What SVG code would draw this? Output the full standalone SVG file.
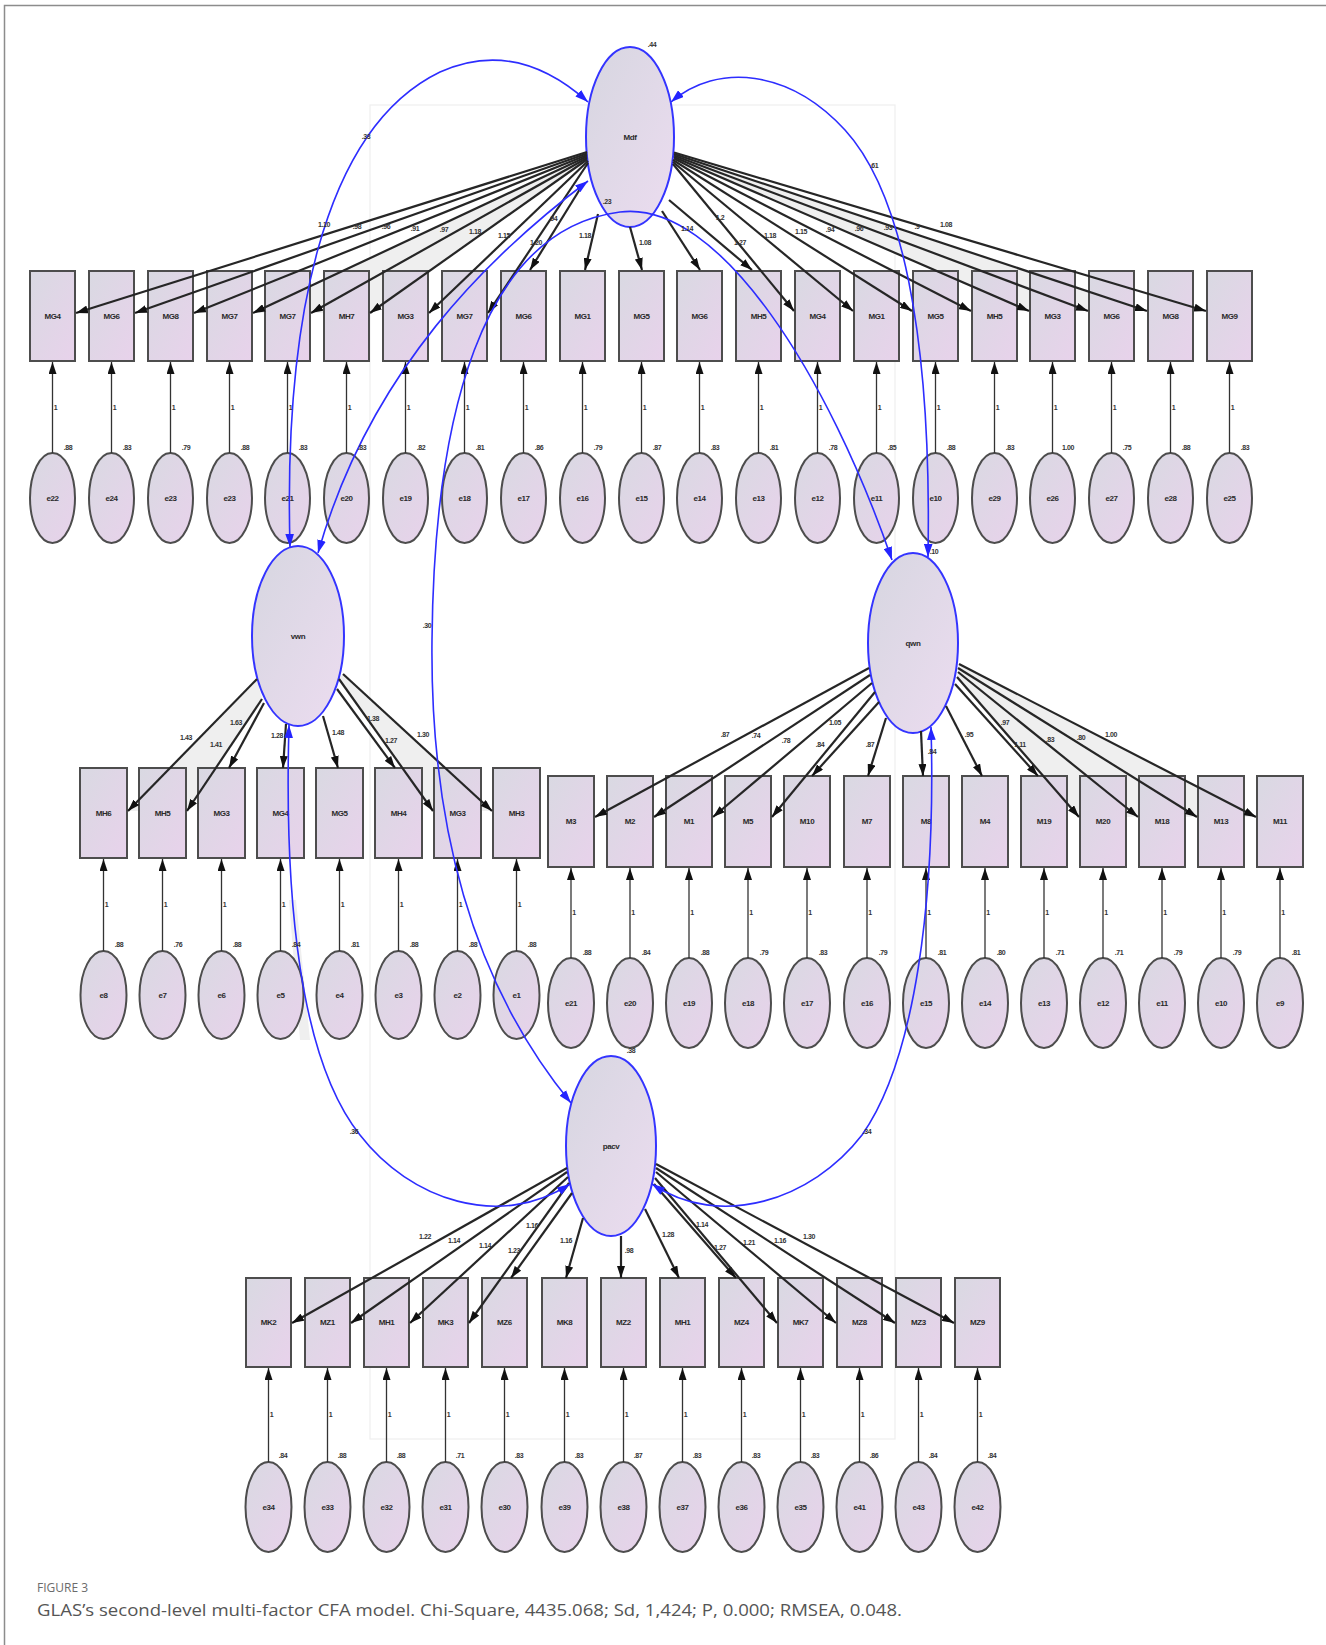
<svg xmlns="http://www.w3.org/2000/svg" width="1326" height="1645" viewBox="0 0 1326 1645">
<defs>
<linearGradient id="gn" x1="0" y1="0" x2="1" y2="1"><stop offset="0" stop-color="#d9d9e2"/><stop offset="1" stop-color="#e8d2eb"/></linearGradient>
<linearGradient id="gl" x1="0" y1="0" x2="1" y2="1"><stop offset="0" stop-color="#d6d6e0"/><stop offset="1" stop-color="#ecdcf0"/></linearGradient>
<marker id="ah" viewBox="0 0 12 8" refX="12" refY="4" markerWidth="12" markerHeight="8" orient="auto" markerUnits="userSpaceOnUse"><path d="M0,0L12,4L0,8z" fill="#111"/></marker>
<marker id="bh" viewBox="0 0 12 8" refX="12" refY="4" markerWidth="13" markerHeight="9" orient="auto-start-reverse" markerUnits="userSpaceOnUse"><path d="M0,0L12,4L0,8z" fill="#2424ff"/></marker>
<style>
.box{fill:url(#gn);stroke:#4d4d4d;stroke-width:2}
.err{fill:url(#gn);stroke:#4d4d4d;stroke-width:2}
.lat{fill:url(#gl);stroke:#3434ff;stroke-width:2}
.nl{font-family:"Liberation Sans",Arial,sans-serif;font-size:8px;font-weight:bold;fill:#2a2a2a;text-anchor:middle;letter-spacing:-0.4px}
.sl{font-family:"Liberation Sans",Arial,sans-serif;font-size:7px;font-weight:bold;fill:#333;text-anchor:middle;letter-spacing:-0.4px}
.reg{stroke:#262626;stroke-width:2.2;fill:none;marker-end:url(#ah)}
.eln{stroke:#333;stroke-width:1.3;fill:none;marker-end:url(#ah)}
.cov{stroke:#2d2dff;stroke-width:1.6;fill:none;marker-start:url(#bh);marker-end:url(#bh)}
.frame{stroke:#8c8c8c;stroke-width:1.5;fill:none}
.faint{stroke:#efefef;stroke-width:1.2;fill:none}
.shade{fill:#efefef;stroke:none}
</style>
</defs>
<rect width="1326" height="1645" fill="#ffffff"/>
<path class="frame" d="M4.5,1645V5.5H1326"/>
<rect class="faint" x="370" y="105" width="525" height="1334"/>

<g id="shading">
<polygon class="shade" points="257,679 128,811 187,811 262,699"/>
<polygon class="shade" points="339,679 433,811 492,811 343,674"/>
<polygon class="shade" points="957,677 1079,817 1256,817 959,664"/>
<polygon class="shade" points="587,156 253,313 370,313 587,160"/>
<polygon class="shade" points="674,157 1029,311 1147,311 674,154"/>
<polygon class="shade" points="289,900 300,1040 310,1040 296,900"/>
</g>

<g id="nodes">
<g id="Mdf"><ellipse class="lat" cx="630" cy="137" rx="44" ry="90"/><text class="nl" x="630" y="140">Mdf</text></g>
<g id="vwn"><ellipse class="lat" cx="298" cy="636" rx="46" ry="90"/><text class="nl" x="298" y="639">vwn</text></g>
<g id="qwn"><ellipse class="lat" cx="913" cy="643" rx="45" ry="90"/><text class="nl" x="913" y="646">qwn</text></g>
<g id="pacv"><ellipse class="lat" cx="611" cy="1146" rx="45" ry="90"/><text class="nl" x="611" y="1149">pacv</text></g>

<g id="top-row">
<g id="t0"><rect class="box" x="30" y="271" width="45" height="90"/><text class="nl" x="52.5" y="319">MG4</text></g>
<g id="t1"><rect class="box" x="89" y="271" width="45" height="90"/><text class="nl" x="111.5" y="319">MG6</text></g>
<g id="t2"><rect class="box" x="148" y="271" width="45" height="90"/><text class="nl" x="170.5" y="319">MG8</text></g>
<g id="t3"><rect class="box" x="207" y="271" width="45" height="90"/><text class="nl" x="229.5" y="319">MG7</text></g>
<g id="t4"><rect class="box" x="265" y="271" width="45" height="90"/><text class="nl" x="287.5" y="319">MG7</text></g>
<g id="t5"><rect class="box" x="324" y="271" width="45" height="90"/><text class="nl" x="346.5" y="319">MH7</text></g>
<g id="t6"><rect class="box" x="383" y="271" width="45" height="90"/><text class="nl" x="405.5" y="319">MG3</text></g>
<g id="t7"><rect class="box" x="442" y="271" width="45" height="90"/><text class="nl" x="464.5" y="319">MG7</text></g>
<g id="t8"><rect class="box" x="501" y="271" width="45" height="90"/><text class="nl" x="523.5" y="319">MG6</text></g>
<g id="t9"><rect class="box" x="560" y="271" width="45" height="90"/><text class="nl" x="582.5" y="319">MG1</text></g>
<g id="t10"><rect class="box" x="619" y="271" width="45" height="90"/><text class="nl" x="641.5" y="319">MG5</text></g>
<g id="t11"><rect class="box" x="677" y="271" width="45" height="90"/><text class="nl" x="699.5" y="319">MG6</text></g>
<g id="t12"><rect class="box" x="736" y="271" width="45" height="90"/><text class="nl" x="758.5" y="319">MH5</text></g>
<g id="t13"><rect class="box" x="795" y="271" width="45" height="90"/><text class="nl" x="817.5" y="319">MG4</text></g>
<g id="t14"><rect class="box" x="854" y="271" width="45" height="90"/><text class="nl" x="876.5" y="319">MG1</text></g>
<g id="t15"><rect class="box" x="913" y="271" width="45" height="90"/><text class="nl" x="935.5" y="319">MG5</text></g>
<g id="t16"><rect class="box" x="972" y="271" width="45" height="90"/><text class="nl" x="994.5" y="319">MH5</text></g>
<g id="t17"><rect class="box" x="1030" y="271" width="45" height="90"/><text class="nl" x="1052.5" y="319">MG3</text></g>
<g id="t18"><rect class="box" x="1089" y="271" width="45" height="90"/><text class="nl" x="1111.5" y="319">MG6</text></g>
<g id="t19"><rect class="box" x="1148" y="271" width="45" height="90"/><text class="nl" x="1170.5" y="319">MG8</text></g>
<g id="t20"><rect class="box" x="1207" y="271" width="45" height="90"/><text class="nl" x="1229.5" y="319">MG9</text></g>
</g>
<g id="top-errors">
<g id="te0"><ellipse class="err" cx="52.5" cy="498" rx="22.5" ry="45"/><text class="nl" x="52.5" y="501">e22</text></g>
<g id="te1"><ellipse class="err" cx="111.5" cy="498" rx="22.5" ry="45"/><text class="nl" x="111.5" y="501">e24</text></g>
<g id="te2"><ellipse class="err" cx="170.5" cy="498" rx="22.5" ry="45"/><text class="nl" x="170.5" y="501">e23</text></g>
<g id="te3"><ellipse class="err" cx="229.5" cy="498" rx="22.5" ry="45"/><text class="nl" x="229.5" y="501">e23</text></g>
<g id="te4"><ellipse class="err" cx="287.5" cy="498" rx="22.5" ry="45"/><text class="nl" x="287.5" y="501">e21</text></g>
<g id="te5"><ellipse class="err" cx="346.5" cy="498" rx="22.5" ry="45"/><text class="nl" x="346.5" y="501">e20</text></g>
<g id="te6"><ellipse class="err" cx="405.5" cy="498" rx="22.5" ry="45"/><text class="nl" x="405.5" y="501">e19</text></g>
<g id="te7"><ellipse class="err" cx="464.5" cy="498" rx="22.5" ry="45"/><text class="nl" x="464.5" y="501">e18</text></g>
<g id="te8"><ellipse class="err" cx="523.5" cy="498" rx="22.5" ry="45"/><text class="nl" x="523.5" y="501">e17</text></g>
<g id="te9"><ellipse class="err" cx="582.5" cy="498" rx="22.5" ry="45"/><text class="nl" x="582.5" y="501">e16</text></g>
<g id="te10"><ellipse class="err" cx="641.5" cy="498" rx="22.5" ry="45"/><text class="nl" x="641.5" y="501">e15</text></g>
<g id="te11"><ellipse class="err" cx="699.5" cy="498" rx="22.5" ry="45"/><text class="nl" x="699.5" y="501">e14</text></g>
<g id="te12"><ellipse class="err" cx="758.5" cy="498" rx="22.5" ry="45"/><text class="nl" x="758.5" y="501">e13</text></g>
<g id="te13"><ellipse class="err" cx="817.5" cy="498" rx="22.5" ry="45"/><text class="nl" x="817.5" y="501">e12</text></g>
<g id="te14"><ellipse class="err" cx="876.5" cy="498" rx="22.5" ry="45"/><text class="nl" x="876.5" y="501">e11</text></g>
<g id="te15"><ellipse class="err" cx="935.5" cy="498" rx="22.5" ry="45"/><text class="nl" x="935.5" y="501">e10</text></g>
<g id="te16"><ellipse class="err" cx="994.5" cy="498" rx="22.5" ry="45"/><text class="nl" x="994.5" y="501">e29</text></g>
<g id="te17"><ellipse class="err" cx="1052.5" cy="498" rx="22.5" ry="45"/><text class="nl" x="1052.5" y="501">e26</text></g>
<g id="te18"><ellipse class="err" cx="1111.5" cy="498" rx="22.5" ry="45"/><text class="nl" x="1111.5" y="501">e27</text></g>
<g id="te19"><ellipse class="err" cx="1170.5" cy="498" rx="22.5" ry="45"/><text class="nl" x="1170.5" y="501">e28</text></g>
<g id="te20"><ellipse class="err" cx="1229.5" cy="498" rx="22.5" ry="45"/><text class="nl" x="1229.5" y="501">e25</text></g>
</g>

<g id="left-row">
<g id="l0"><rect class="box" x="80" y="768" width="47" height="90"/><text class="nl" x="103.5" y="816">MH6</text></g>
<g id="l1"><rect class="box" x="139" y="768" width="47" height="90"/><text class="nl" x="162.5" y="816">MH5</text></g>
<g id="l2"><rect class="box" x="198" y="768" width="47" height="90"/><text class="nl" x="221.5" y="816">MG3</text></g>
<g id="l3"><rect class="box" x="257" y="768" width="47" height="90"/><text class="nl" x="280.5" y="816">MG4</text></g>
<g id="l4"><rect class="box" x="316" y="768" width="47" height="90"/><text class="nl" x="339.5" y="816">MG5</text></g>
<g id="l5"><rect class="box" x="375" y="768" width="47" height="90"/><text class="nl" x="398.5" y="816">MH4</text></g>
<g id="l6"><rect class="box" x="434" y="768" width="47" height="90"/><text class="nl" x="457.5" y="816">MG3</text></g>
<g id="l7"><rect class="box" x="493" y="768" width="47" height="90"/><text class="nl" x="516.5" y="816">MH3</text></g>
</g>
<g id="left-errors">
<g id="le0"><ellipse class="err" cx="103.5" cy="995" rx="23" ry="44"/><text class="nl" x="103.5" y="998">e8</text></g>
<g id="le1"><ellipse class="err" cx="162.5" cy="995" rx="23" ry="44"/><text class="nl" x="162.5" y="998">e7</text></g>
<g id="le2"><ellipse class="err" cx="221.5" cy="995" rx="23" ry="44"/><text class="nl" x="221.5" y="998">e6</text></g>
<g id="le3"><ellipse class="err" cx="280.5" cy="995" rx="23" ry="44"/><text class="nl" x="280.5" y="998">e5</text></g>
<g id="le4"><ellipse class="err" cx="339.5" cy="995" rx="23" ry="44"/><text class="nl" x="339.5" y="998">e4</text></g>
<g id="le5"><ellipse class="err" cx="398.5" cy="995" rx="23" ry="44"/><text class="nl" x="398.5" y="998">e3</text></g>
<g id="le6"><ellipse class="err" cx="457.5" cy="995" rx="23" ry="44"/><text class="nl" x="457.5" y="998">e2</text></g>
<g id="le7"><ellipse class="err" cx="516.5" cy="995" rx="23" ry="44"/><text class="nl" x="516.5" y="998">e1</text></g>
</g>

<g id="right-row">
<g id="r0"><rect class="box" x="548" y="776" width="46" height="91"/><text class="nl" x="571" y="824">M3</text></g>
<g id="r1"><rect class="box" x="607" y="776" width="46" height="91"/><text class="nl" x="630" y="824">M2</text></g>
<g id="r2"><rect class="box" x="666" y="776" width="46" height="91"/><text class="nl" x="689" y="824">M1</text></g>
<g id="r3"><rect class="box" x="725" y="776" width="46" height="91"/><text class="nl" x="748" y="824">M5</text></g>
<g id="r4"><rect class="box" x="784" y="776" width="46" height="91"/><text class="nl" x="807" y="824">M10</text></g>
<g id="r5"><rect class="box" x="844" y="776" width="46" height="91"/><text class="nl" x="867" y="824">M7</text></g>
<g id="r6"><rect class="box" x="903" y="776" width="46" height="91"/><text class="nl" x="926" y="824">M8</text></g>
<g id="r7"><rect class="box" x="962" y="776" width="46" height="91"/><text class="nl" x="985" y="824">M4</text></g>
<g id="r8"><rect class="box" x="1021" y="776" width="46" height="91"/><text class="nl" x="1044" y="824">M19</text></g>
<g id="r9"><rect class="box" x="1080" y="776" width="46" height="91"/><text class="nl" x="1103" y="824">M20</text></g>
<g id="r10"><rect class="box" x="1139" y="776" width="46" height="91"/><text class="nl" x="1162" y="824">M18</text></g>
<g id="r11"><rect class="box" x="1198" y="776" width="46" height="91"/><text class="nl" x="1221" y="824">M13</text></g>
<g id="r12"><rect class="box" x="1257" y="776" width="46" height="91"/><text class="nl" x="1280" y="824">M11</text></g>
</g>
<g id="right-errors">
<g id="re0"><ellipse class="err" cx="571" cy="1003" rx="23" ry="45"/><text class="nl" x="571" y="1006">e21</text></g>
<g id="re1"><ellipse class="err" cx="630" cy="1003" rx="23" ry="45"/><text class="nl" x="630" y="1006">e20</text></g>
<g id="re2"><ellipse class="err" cx="689" cy="1003" rx="23" ry="45"/><text class="nl" x="689" y="1006">e19</text></g>
<g id="re3"><ellipse class="err" cx="748" cy="1003" rx="23" ry="45"/><text class="nl" x="748" y="1006">e18</text></g>
<g id="re4"><ellipse class="err" cx="807" cy="1003" rx="23" ry="45"/><text class="nl" x="807" y="1006">e17</text></g>
<g id="re5"><ellipse class="err" cx="867" cy="1003" rx="23" ry="45"/><text class="nl" x="867" y="1006">e16</text></g>
<g id="re6"><ellipse class="err" cx="926" cy="1003" rx="23" ry="45"/><text class="nl" x="926" y="1006">e15</text></g>
<g id="re7"><ellipse class="err" cx="985" cy="1003" rx="23" ry="45"/><text class="nl" x="985" y="1006">e14</text></g>
<g id="re8"><ellipse class="err" cx="1044" cy="1003" rx="23" ry="45"/><text class="nl" x="1044" y="1006">e13</text></g>
<g id="re9"><ellipse class="err" cx="1103" cy="1003" rx="23" ry="45"/><text class="nl" x="1103" y="1006">e12</text></g>
<g id="re10"><ellipse class="err" cx="1162" cy="1003" rx="23" ry="45"/><text class="nl" x="1162" y="1006">e11</text></g>
<g id="re11"><ellipse class="err" cx="1221" cy="1003" rx="23" ry="45"/><text class="nl" x="1221" y="1006">e10</text></g>
<g id="re12"><ellipse class="err" cx="1280" cy="1003" rx="23" ry="45"/><text class="nl" x="1280" y="1006">e9</text></g>
</g>

<g id="bottom-row">
<g id="b0"><rect class="box" x="246" y="1278" width="45" height="89"/><text class="nl" x="268.5" y="1325">MK2</text></g>
<g id="b1"><rect class="box" x="305" y="1278" width="45" height="89"/><text class="nl" x="327.5" y="1325">MZ1</text></g>
<g id="b2"><rect class="box" x="364" y="1278" width="45" height="89"/><text class="nl" x="386.5" y="1325">MH1</text></g>
<g id="b3"><rect class="box" x="423" y="1278" width="45" height="89"/><text class="nl" x="445.5" y="1325">MK3</text></g>
<g id="b4"><rect class="box" x="482" y="1278" width="45" height="89"/><text class="nl" x="504.5" y="1325">MZ6</text></g>
<g id="b5"><rect class="box" x="542" y="1278" width="45" height="89"/><text class="nl" x="564.5" y="1325">MK8</text></g>
<g id="b6"><rect class="box" x="601" y="1278" width="45" height="89"/><text class="nl" x="623.5" y="1325">MZ2</text></g>
<g id="b7"><rect class="box" x="660" y="1278" width="45" height="89"/><text class="nl" x="682.5" y="1325">MH1</text></g>
<g id="b8"><rect class="box" x="719" y="1278" width="45" height="89"/><text class="nl" x="741.5" y="1325">MZ4</text></g>
<g id="b9"><rect class="box" x="778" y="1278" width="45" height="89"/><text class="nl" x="800.5" y="1325">MK7</text></g>
<g id="b10"><rect class="box" x="837" y="1278" width="45" height="89"/><text class="nl" x="859.5" y="1325">MZ8</text></g>
<g id="b11"><rect class="box" x="896" y="1278" width="45" height="89"/><text class="nl" x="918.5" y="1325">MZ3</text></g>
<g id="b12"><rect class="box" x="955" y="1278" width="45" height="89"/><text class="nl" x="977.5" y="1325">MZ9</text></g>
</g>
<g id="bottom-errors">
<g id="be0"><ellipse class="err" cx="268.5" cy="1507" rx="23" ry="45"/><text class="nl" x="268.5" y="1510">e34</text></g>
<g id="be1"><ellipse class="err" cx="327.5" cy="1507" rx="23" ry="45"/><text class="nl" x="327.5" y="1510">e33</text></g>
<g id="be2"><ellipse class="err" cx="386.5" cy="1507" rx="23" ry="45"/><text class="nl" x="386.5" y="1510">e32</text></g>
<g id="be3"><ellipse class="err" cx="445.5" cy="1507" rx="23" ry="45"/><text class="nl" x="445.5" y="1510">e31</text></g>
<g id="be4"><ellipse class="err" cx="504.5" cy="1507" rx="23" ry="45"/><text class="nl" x="504.5" y="1510">e30</text></g>
<g id="be5"><ellipse class="err" cx="564.5" cy="1507" rx="23" ry="45"/><text class="nl" x="564.5" y="1510">e39</text></g>
<g id="be6"><ellipse class="err" cx="623.5" cy="1507" rx="23" ry="45"/><text class="nl" x="623.5" y="1510">e38</text></g>
<g id="be7"><ellipse class="err" cx="682.5" cy="1507" rx="23" ry="45"/><text class="nl" x="682.5" y="1510">e37</text></g>
<g id="be8"><ellipse class="err" cx="741.5" cy="1507" rx="23" ry="45"/><text class="nl" x="741.5" y="1510">e36</text></g>
<g id="be9"><ellipse class="err" cx="800.5" cy="1507" rx="23" ry="45"/><text class="nl" x="800.5" y="1510">e35</text></g>
<g id="be10"><ellipse class="err" cx="859.5" cy="1507" rx="23" ry="45"/><text class="nl" x="859.5" y="1510">e41</text></g>
<g id="be11"><ellipse class="err" cx="918.5" cy="1507" rx="23" ry="45"/><text class="nl" x="918.5" y="1510">e43</text></g>
<g id="be12"><ellipse class="err" cx="977.5" cy="1507" rx="23" ry="45"/><text class="nl" x="977.5" y="1510">e42</text></g>
</g>
</g>

<g id="connectors">
<g id="top-paths">
<path class="reg" d="M587,152L76,313"/>
<path class="reg" d="M587,153.5L135,313"/>
<path class="reg" d="M587,155L194,313"/>
<path class="reg" d="M587,156.5L253,313"/>
<path class="reg" d="M587,158L311,313"/>
<path class="reg" d="M587,159.5L370,313"/>
<path class="reg" d="M588,161L429,313"/>
<path class="reg" d="M588,163L488,313"/>
<path class="reg" d="M580,189L530,270"/>
<path class="reg" d="M598,214L585,270"/>
<path class="reg" d="M630,227L642,270"/>
<path class="reg" d="M662,211L700,270"/>
<path class="reg" d="M669,200L752,270"/>
<path class="reg" d="M673,164L794,311"/>
<path class="reg" d="M673,162L853,311"/>
<path class="reg" d="M673,160L912,311"/>
<path class="reg" d="M674,158.5L971,311"/>
<path class="reg" d="M674,157L1029,311"/>
<path class="reg" d="M674,155.5L1088,311"/>
<path class="reg" d="M674,154L1147,311"/>
<path class="reg" d="M674,152.5L1206,311"/>
</g>
<g id="top-error-paths">
<path class="eln" d="M52.5,453V362"/><path class="eln" d="M111.5,453V362"/><path class="eln" d="M170.5,453V362"/><path class="eln" d="M229.5,453V362"/><path class="eln" d="M287.5,453V362"/><path class="eln" d="M346.5,453V362"/><path class="eln" d="M405.5,453V362"/><path class="eln" d="M464.5,453V362"/><path class="eln" d="M523.5,453V362"/><path class="eln" d="M582.5,453V362"/><path class="eln" d="M641.5,453V362"/><path class="eln" d="M699.5,453V362"/><path class="eln" d="M758.5,453V362"/><path class="eln" d="M817.5,453V362"/><path class="eln" d="M876.5,453V362"/><path class="eln" d="M935.5,453V362"/><path class="eln" d="M994.5,453V362"/><path class="eln" d="M1052.5,453V362"/><path class="eln" d="M1111.5,453V362"/><path class="eln" d="M1170.5,453V362"/><path class="eln" d="M1229.5,453V362"/>
</g>
<g id="left-paths">
<path class="reg" d="M257,679L128,811"/>
<path class="reg" d="M262,699L187,811"/>
<path class="reg" d="M264,703L229,768"/>
<path class="reg" d="M286,724L283,768"/>
<path class="reg" d="M323,716L338,768"/>
<path class="reg" d="M337,689L395,768"/>
<path class="reg" d="M339,679L433,811"/>
<path class="reg" d="M343,674L492,811"/>
<path class="eln" d="M103.5,951V859"/><path class="eln" d="M162.5,951V859"/><path class="eln" d="M221.5,951V859"/><path class="eln" d="M280.5,951V859"/><path class="eln" d="M339.5,951V859"/><path class="eln" d="M398.5,951V859"/><path class="eln" d="M457.5,951V859"/><path class="eln" d="M516.5,951V859"/>
</g>
<g id="right-paths">
<path class="reg" d="M869,668L595,817"/>
<path class="reg" d="M870,675L654,817"/>
<path class="reg" d="M872,683L713,817"/>
<path class="reg" d="M875,692L772,817"/>
<path class="reg" d="M879,702L812,776"/>
<path class="reg" d="M886,718L868,776"/>
<path class="reg" d="M921,731L923,776"/>
<path class="reg" d="M946,706L982,776"/>
<path class="reg" d="M955,684L1038,776"/>
<path class="reg" d="M957,677L1079,817"/>
<path class="reg" d="M958,672L1138,817"/>
<path class="reg" d="M958,668L1197,817"/>
<path class="reg" d="M959,664L1256,817"/>
<path class="eln" d="M571,958V868"/><path class="eln" d="M630,958V868"/><path class="eln" d="M689,958V868"/><path class="eln" d="M748,958V868"/><path class="eln" d="M807,958V868"/><path class="eln" d="M867,958V868"/><path class="eln" d="M926,958V868"/><path class="eln" d="M985,958V868"/><path class="eln" d="M1044,958V868"/><path class="eln" d="M1103,958V868"/><path class="eln" d="M1162,958V868"/><path class="eln" d="M1221,958V868"/><path class="eln" d="M1280,958V868"/>
</g>
<g id="bottom-paths">
<path class="reg" d="M567,1168L292,1323"/>
<path class="reg" d="M567,1172L351,1323"/>
<path class="reg" d="M568,1177L410,1323"/>
<path class="reg" d="M569,1183L469,1323"/>
<path class="reg" d="M572,1193L511,1278"/>
<path class="reg" d="M583,1218L566,1278"/>
<path class="reg" d="M621,1236L621,1278"/>
<path class="reg" d="M645,1209L679,1278"/>
<path class="reg" d="M654,1184L736,1278"/>
<path class="reg" d="M655,1178L777,1323"/>
<path class="reg" d="M656,1172L836,1323"/>
<path class="reg" d="M656,1168L895,1323"/>
<path class="reg" d="M656,1164L954,1323"/>
<path class="eln" d="M268.5,1462V1368"/><path class="eln" d="M327.5,1462V1368"/><path class="eln" d="M386.5,1462V1368"/><path class="eln" d="M445.5,1462V1368"/><path class="eln" d="M504.5,1462V1368"/><path class="eln" d="M564.5,1462V1368"/><path class="eln" d="M623.5,1462V1368"/><path class="eln" d="M682.5,1462V1368"/><path class="eln" d="M741.5,1462V1368"/><path class="eln" d="M800.5,1462V1368"/><path class="eln" d="M859.5,1462V1368"/><path class="eln" d="M918.5,1462V1368"/><path class="eln" d="M977.5,1462V1368"/>
</g>
<g id="covariances">
<path class="cov" d="M290,547C284,330 320,130 440,72C500,45 550,68 588,102"/>
<path class="cov" d="M671,102C718,62 790,70 845,130C900,190 932,330 928,557"/>
<path class="cov" d="M588,181C490,255 370,370 318,553"/>
<path class="cov" d="M571,1103C470,980 430,820 432,640C434,420 480,230 620,212C720,199 830,380 892,560"/>
<path class="cov" d="M289,725C284,900 300,1060 360,1135C410,1200 500,1230 570,1184"/>
<path class="cov" d="M931,727C936,900 915,1060 862,1135C812,1200 720,1230 652,1184"/>
</g>
<g id="labels">
<text class="sl" x="366" y="139">.33</text><text class="sl" x="874" y="168">.61</text><text class="sl" x="607" y="204">.23</text><text class="sl" x="427" y="628">.30</text><text class="sl" x="354" y="1134">.36</text><text class="sl" x="867" y="1134">.34</text>
<text class="sl" x="652" y="47">.44</text><text class="sl" x="934" y="554">.10</text><text class="sl" x="631" y="1053">.38</text>
<text class="sl" x="324" y="227">1.10</text><text class="sl" x="357" y="229">.98</text><text class="sl" x="386" y="229">.96</text><text class="sl" x="415" y="231">.91</text><text class="sl" x="444" y="232">.97</text><text class="sl" x="475" y="234">1.18</text><text class="sl" x="504" y="238">1.15</text><text class="sl" x="536" y="245">1.20</text><text class="sl" x="553" y="221">.94</text><text class="sl" x="585" y="238">1.18</text><text class="sl" x="645" y="245">1.08</text><text class="sl" x="687" y="231">1.14</text><text class="sl" x="720" y="220">1.2</text><text class="sl" x="740" y="245">1.27</text><text class="sl" x="770" y="238">1.18</text><text class="sl" x="801" y="234">1.15</text><text class="sl" x="830" y="232">.94</text><text class="sl" x="859" y="231">.96</text><text class="sl" x="888" y="230">.93</text><text class="sl" x="917" y="229">.9</text><text class="sl" x="946" y="227">1.08</text>
<text class="sl" x="186" y="740">1.43</text><text class="sl" x="216" y="747">1.41</text><text class="sl" x="236" y="725">1.63</text><text class="sl" x="277" y="738">1.28</text><text class="sl" x="338" y="735">1.48</text><text class="sl" x="373" y="721">1.38</text><text class="sl" x="391" y="743">1.27</text><text class="sl" x="423" y="737">1.30</text>
<text class="sl" x="725" y="737">.87</text><text class="sl" x="756" y="738">.74</text><text class="sl" x="786" y="743">.78</text><text class="sl" x="820" y="747">.84</text><text class="sl" x="835" y="725">1.05</text><text class="sl" x="870" y="747">.87</text><text class="sl" x="932" y="754">.84</text><text class="sl" x="969" y="737">.95</text><text class="sl" x="1005" y="725">.97</text><text class="sl" x="1020" y="747">1.11</text><text class="sl" x="1050" y="742">.83</text><text class="sl" x="1081" y="740">.80</text><text class="sl" x="1111" y="737">1.00</text>
<text class="sl" x="425" y="1239">1.22</text><text class="sl" x="454" y="1243">1.14</text><text class="sl" x="485" y="1248">1.14</text><text class="sl" x="514" y="1253">1.23</text><text class="sl" x="532" y="1228">1.16</text><text class="sl" x="566" y="1243">1.16</text><text class="sl" x="629" y="1253">.98</text><text class="sl" x="668" y="1237">1.28</text><text class="sl" x="702" y="1227">1.14</text><text class="sl" x="720" y="1250">1.27</text><text class="sl" x="749" y="1245">1.21</text><text class="sl" x="780" y="1243">1.16</text><text class="sl" x="809" y="1239">1.30</text>
<g id="ones">
<text class="sl" x="55.5" y="410">1</text><text class="sl" x="114.5" y="410">1</text><text class="sl" x="173.5" y="410">1</text><text class="sl" x="232.5" y="410">1</text><text class="sl" x="290.5" y="410">1</text><text class="sl" x="349.5" y="410">1</text><text class="sl" x="408.5" y="410">1</text><text class="sl" x="467.5" y="410">1</text><text class="sl" x="526.5" y="410">1</text><text class="sl" x="585.5" y="410">1</text><text class="sl" x="644.5" y="410">1</text><text class="sl" x="702.5" y="410">1</text><text class="sl" x="761.5" y="410">1</text><text class="sl" x="820.5" y="410">1</text><text class="sl" x="879.5" y="410">1</text><text class="sl" x="938.5" y="410">1</text><text class="sl" x="997.5" y="410">1</text><text class="sl" x="1055.5" y="410">1</text><text class="sl" x="1114.5" y="410">1</text><text class="sl" x="1173.5" y="410">1</text><text class="sl" x="1232.5" y="410">1</text>
<text class="sl" x="106.5" y="907">1</text><text class="sl" x="165.5" y="907">1</text><text class="sl" x="224.5" y="907">1</text><text class="sl" x="283.5" y="907">1</text><text class="sl" x="342.5" y="907">1</text><text class="sl" x="401.5" y="907">1</text><text class="sl" x="460.5" y="907">1</text><text class="sl" x="519.5" y="907">1</text>
<text class="sl" x="574" y="915">1</text><text class="sl" x="633" y="915">1</text><text class="sl" x="692" y="915">1</text><text class="sl" x="751" y="915">1</text><text class="sl" x="810" y="915">1</text><text class="sl" x="870" y="915">1</text><text class="sl" x="929" y="915">1</text><text class="sl" x="988" y="915">1</text><text class="sl" x="1047" y="915">1</text><text class="sl" x="1106" y="915">1</text><text class="sl" x="1165" y="915">1</text><text class="sl" x="1224" y="915">1</text><text class="sl" x="1283" y="915">1</text>
<text class="sl" x="271.5" y="1417">1</text><text class="sl" x="330.5" y="1417">1</text><text class="sl" x="389.5" y="1417">1</text><text class="sl" x="448.5" y="1417">1</text><text class="sl" x="507.5" y="1417">1</text><text class="sl" x="567.5" y="1417">1</text><text class="sl" x="626.5" y="1417">1</text><text class="sl" x="685.5" y="1417">1</text><text class="sl" x="744.5" y="1417">1</text><text class="sl" x="803.5" y="1417">1</text><text class="sl" x="862.5" y="1417">1</text><text class="sl" x="921.5" y="1417">1</text><text class="sl" x="980.5" y="1417">1</text>
</g>
<g id="variances">
<text class="sl" x="68" y="450">.88</text><text class="sl" x="127" y="450">.83</text><text class="sl" x="186" y="450">.79</text><text class="sl" x="245" y="450">.88</text><text class="sl" x="303" y="450">.83</text><text class="sl" x="362" y="450">.83</text><text class="sl" x="421" y="450">.82</text><text class="sl" x="480" y="450">.81</text><text class="sl" x="539" y="450">.86</text><text class="sl" x="598" y="450">.79</text><text class="sl" x="657" y="450">.87</text><text class="sl" x="715" y="450">.83</text><text class="sl" x="774" y="450">.81</text><text class="sl" x="833" y="450">.78</text><text class="sl" x="892" y="450">.85</text><text class="sl" x="951" y="450">.88</text><text class="sl" x="1010" y="450">.83</text><text class="sl" x="1068" y="450">1.00</text><text class="sl" x="1127" y="450">.75</text><text class="sl" x="1186" y="450">.88</text><text class="sl" x="1245" y="450">.83</text>
<text class="sl" x="119" y="947">.88</text><text class="sl" x="178" y="947">.76</text><text class="sl" x="237" y="947">.88</text><text class="sl" x="296" y="947">.84</text><text class="sl" x="355" y="947">.81</text><text class="sl" x="414" y="947">.88</text><text class="sl" x="473" y="947">.88</text><text class="sl" x="532" y="947">.88</text>
<text class="sl" x="587" y="955">.88</text><text class="sl" x="646" y="955">.84</text><text class="sl" x="705" y="955">.88</text><text class="sl" x="764" y="955">.79</text><text class="sl" x="823" y="955">.83</text><text class="sl" x="883" y="955">.79</text><text class="sl" x="942" y="955">.81</text><text class="sl" x="1001" y="955">.80</text><text class="sl" x="1060" y="955">.71</text><text class="sl" x="1119" y="955">.71</text><text class="sl" x="1178" y="955">.79</text><text class="sl" x="1237" y="955">.79</text><text class="sl" x="1296" y="955">.81</text>
<text class="sl" x="283" y="1458">.84</text><text class="sl" x="342" y="1458">.88</text><text class="sl" x="401" y="1458">.88</text><text class="sl" x="460" y="1458">.71</text><text class="sl" x="519" y="1458">.83</text><text class="sl" x="579" y="1458">.83</text><text class="sl" x="638" y="1458">.87</text><text class="sl" x="697" y="1458">.83</text><text class="sl" x="756" y="1458">.83</text><text class="sl" x="815" y="1458">.83</text><text class="sl" x="874" y="1458">.86</text><text class="sl" x="933" y="1458">.84</text><text class="sl" x="992" y="1458">.84</text>
</g>
</g>
</g>

<g id="caption">
<text x="37" y="1592" font-family="'Open Sans','Liberation Sans',sans-serif" font-size="12" fill="#6b6b6b">FIGURE 3</text>
<text x="37" y="1616" font-family="'Open Sans','Liberation Sans',sans-serif" font-size="16.5" fill="#555555" textLength="865" lengthAdjust="spacingAndGlyphs">GLAS’s second-level multi-factor CFA model. Chi-Square, 4435.068; Sd, 1,424; P, 0.000; RMSEA, 0.048.</text>
</g>
</svg>
